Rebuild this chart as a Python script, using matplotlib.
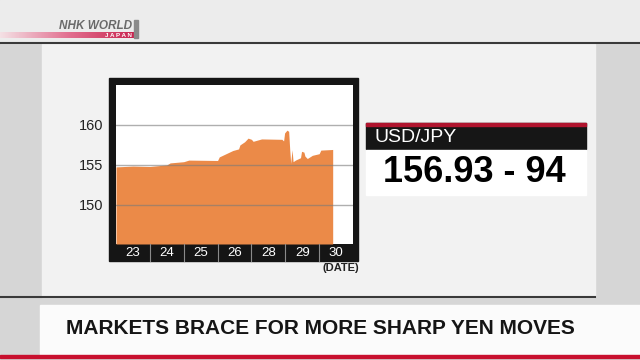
import numpy as np
import matplotlib.pyplot as plt
from matplotlib.patches import Rectangle
from matplotlib.colors import LinearSegmentedColormap

# USD/JPY over the week (x in trading days from the left edge, y in yen)
days = [0.0, 0.5, 1.0, 1.5, 1.6, 2.0, 2.15, 3.0, 3.05, 3.3, 3.45, 3.62, 3.66,
        3.8, 3.9, 4.0, 4.05, 4.3, 4.9, 4.95, 4.98, 5.05, 5.1, 5.13, 5.16, 5.2,
        5.23, 5.3, 5.45, 5.48, 5.55, 5.58, 5.65, 5.8, 6.0, 6.05, 6.4]
price = [154.75, 154.85, 154.8, 155.0, 155.25, 155.4, 155.6, 155.55, 156.0,
         156.5, 156.8, 157.0, 157.5, 157.9, 158.35, 158.2, 157.95, 158.25, 158.2,
         158.0, 159.0, 159.35, 159.2, 157.0, 155.2, 156.9, 155.4, 155.6, 155.9,
         156.7, 156.6, 156.1, 155.8, 156.2, 156.4, 156.85, 156.93]
date_labels = ['23', '24', '25', '26', '28', '29', '30']
yticks = [150, 155, 160]

W, H = 640, 360
fig = plt.figure(figsize=(6.4, 3.6), dpi=100)
plt.rcParams['font.family'] = ['Liberation Sans', 'DejaVu Sans']

# full-figure layer in pixel coordinates for the TV graphics
bg = fig.add_axes([0, 0, 1, 1], zorder=0)
bg.set_xlim(0, W)
bg.set_ylim(H, 0)
bg.axis('off')
fig.patch.set_facecolor('#d6d6d6')

bg.add_patch(Rectangle((0, 0), W, 43, color='#ececec'))
bg.add_patch(Rectangle((42, 44), 553, 253, color='#f2f2f2'))
bg.plot([0, W], [43, 43], color='#3a3a3a', lw=1.5)
bg.plot([0, 595], [297, 297], color='#3a3a3a', lw=1.5)

# NHK WORLD logo
grad = np.linspace(0, 1, 100).reshape(1, -1)
nhk = LinearSegmentedColormap.from_list('nhk', ['#f4e0e4', '#e27090', '#c8234e'])
bg.imshow(grad, extent=(0, 137, 38, 32), cmap=nhk, aspect='auto', zorder=1)
bg.add_patch(Rectangle((134, 20), 4, 18, color='#8a8a8a', zorder=2))
bg.text(132, 26, 'NHK WORLD', ha='right', va='center', fontsize=8.5,
        fontweight='bold', style='italic', color='#6a6a6a')
bg.text(132, 35.3, 'J A P A N', ha='right', va='center', fontsize=4.5,
        fontweight='bold', color='white')

# chart frame
bg.add_patch(Rectangle((109, 78), 249, 183, color='#151515'))
bg.text(341, 268, '(DATE)', ha='center', va='center', fontsize=8,
        fontweight='bold', color='#222222')

# USD/JPY box
bg.add_patch(Rectangle((366, 123), 220, 26, color='#161616'))
bg.add_patch(Rectangle((366, 122.5), 220, 3, color='#b0142e'))
bg.add_patch(Rectangle((366, 150), 220, 45, color='white'))
bg.text(375, 137.5, 'USD/JPY', ha='left', va='center', fontsize=14, color='white')
bg.text(474, 173, '156.93 - 94', ha='center', va='center', fontsize=26,
        fontweight='bold', color='black')

# caption banner
bg.add_patch(Rectangle((40, 305), 600, 51, color='#fbfbfb'))
bg.add_patch(Rectangle((0, 355), W, 2.5, color='#c8102e'))
bg.text(320, 328, 'MARKETS BRACE FOR MORE SHARP YEN MOVES', ha='center', va='center',
        fontsize=15, fontweight='bold', color='#151515')

# the chart itself
ax = fig.add_axes([116 / W, 1 - 244 / H, 237 / W, 159 / H], zorder=2)
ax.set_facecolor('white')
ax.fill_between(days, price, 145.1, color='#eb8a48', lw=0, zorder=1)
ax.set_xlim(0, 7)
ax.set_ylim(145.1, 165)
ax.set_yticks(yticks)
ax.set_yticklabels([str(v) for v in yticks], fontsize=10.5)
ax.tick_params(axis='y', length=0, pad=9, colors='#222222')
ax.set_xticks([])
for v in yticks:
    ax.axhline(v, color='#7a7a7a', lw=1, alpha=0.6, zorder=2)
for s in ax.spines.values():
    s.set_visible(False)

# date strip below the plot
xt = ax.get_xaxis_transform()
for i, lab in enumerate(date_labels):
    ax.text(i + 0.5, -0.055, lab, transform=xt, ha='center', va='center',
            fontsize=9.5, color='white', clip_on=False)
    if i > 0:
        ax.plot([i, i], [-0.105, 0], transform=xt, color='#8a8a8a', lw=0.8, clip_on=False)

fig.savefig('out.png', dpi=100, facecolor=fig.get_facecolor())
